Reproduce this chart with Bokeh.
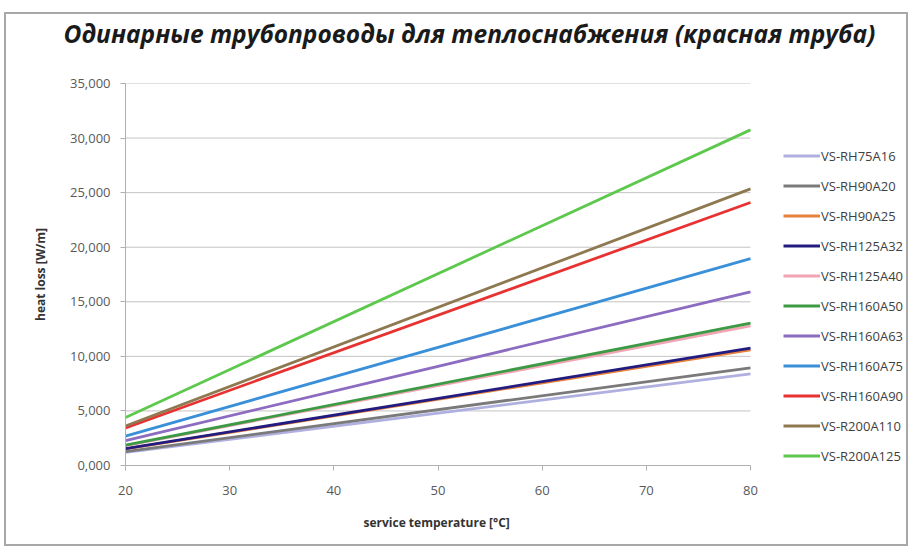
from bokeh.plotting import figure
from bokeh.models import Legend, LegendItem, FixedTicker, Title, Range1d
from bokeh.embed import file_html
from bokeh.resources import INLINE

# ---- data ----
temperature = [20, 80]
series_names = ["VS-RH75A16", "VS-RH90A20", "VS-RH90A25", "VS-RH125A32", "VS-RH125A40",
                "VS-RH160A50", "VS-RH160A63", "VS-RH160A75", "VS-RH160A90",
                "VS-R200A110", "VS-R200A125"]
loss_at_20 = [1.20, 1.28, 1.52, 1.54, 1.83, 1.86, 2.27, 2.70, 3.44, 3.62, 4.40]
loss_at_80 = [8.40, 8.95, 10.60, 10.75, 12.80, 13.05, 15.90, 18.95, 24.10, 25.35, 30.75]
series_colors = ["#b0b0e0", "#7a7a7a", "#e8803a", "#231c80", "#f0a4b4",
                 "#3c9a44", "#8c6cc0", "#3a90d8", "#e83232", "#8e7850", "#5cc84c"]
x_ticks = [20, 30, 40, 50, 60, 70, 80]
y_ticks = [0, 5, 10, 15, 20, 25, 30, 35]
y_tick_labels = ["0,000", "5,000", "10,000", "15,000", "20,000", "25,000", "30,000", "35,000"]
title_text = "Одинарные трубопроводы для теплоснабжения (красная труба)"
x_title = "service temperature [°C]"
y_title = "heat loss [W/m]"

FONT = "Open Sans"

# layout (pixels)
W, H = 904, 534
LEFT, RIGHT, TOP, BOTTOM = 119, 0, 68, 83
AXIS_PX = 625                       # pixel length of the 20..80 axis
frame_px = W - LEFT - RIGHT
x0, x1 = x_ticks[0], x_ticks[-1]
x_end = x0 + (x1 - x0) * frame_px / AXIS_PX   # extra room on the right holds the legend

p = figure(width=W, height=H, output_backend="svg", toolbar_location=None,
           x_range=Range1d(x0, x_end), y_range=Range1d(y_ticks[0], y_ticks[-1]),
           min_border_left=LEFT, min_border_right=RIGHT,
           min_border_top=TOP, min_border_bottom=BOTTOM)
p.title_location = None
p.outline_line_color = None
p.background_fill_color = "white"
p.border_fill_color = "white"
p.styles = {"border": "2px solid #a8a8a8", "margin-top": "12px", "margin-left": "4px"}

# titles (spacer first = nearest to the frame)
p.add_layout(Title(text=" ", text_font_size="1px", standoff=31), "above")
p.add_layout(Title(text=title_text, align="left", offset=-62,
                   text_font=FONT, text_font_style="bold italic", text_font_size="24.5px",
                   text_color="#1a1a1a", standoff=0), "above")

# horizontal grid lines, only across the 20..80 span
p.xgrid.visible = False
p.ygrid.visible = False
p.segment(x0=[x0] * len(y_ticks), x1=[x1] * len(y_ticks), y0=y_ticks, y1=y_ticks,
          line_color="#c4c4c4", line_width=1)

# axes
for ax in (p.xaxis[0], p.yaxis[0]):
    ax.axis_line_color = "#b0b0b0"
    ax.major_tick_line_color = "#b0b0b0"
    ax.minor_tick_line_color = None
    ax.major_tick_in = 0
    ax.major_tick_out = 5
    ax.major_label_text_font = FONT
    ax.major_label_text_font_size = "13px"
    ax.major_label_text_color = "#595959"
    ax.axis_label_text_font = FONT
    ax.axis_label_text_font_style = "bold"
    ax.axis_label_text_font_size = "12px"
    ax.axis_label_text_color = "#333333"

p.xaxis.ticker = FixedTicker(ticks=x_ticks)
p.xaxis.bounds = (x0, x1)
p.xaxis.major_label_standoff = 15

p.add_layout(Title(text=x_title, align="left", offset=238,
                   text_font=FONT, text_font_style="bold", text_font_size="12px",
                   text_color="#333333", standoff=29), "below")

p.yaxis.ticker = FixedTicker(ticks=y_ticks)
p.yaxis.major_label_overrides = {t: lab for t, lab in zip(y_ticks, y_tick_labels)}
p.yaxis.axis_label = y_title
p.yaxis.major_label_standoff = 10
p.yaxis.axis_label_standoff = 18

items = []
for name, a, b, c in zip(series_names, loss_at_20, loss_at_80, series_colors):
    r = p.line(temperature, [a, b], line_color=c, line_width=2.8)
    items.append(LegendItem(label=name, renderers=[r]))

legend = Legend(items=items, location=(658, 0), orientation="vertical",
                glyph_width=37, glyph_height=19, label_height=19, spacing=11,
                label_standoff=1, padding=0, margin=0,
                border_line_alpha=0, background_fill_alpha=0,
                label_text_font=FONT, label_text_font_size="13px",
                label_text_color="#404040")
p.add_layout(legend, "center")

open("out.html", "w").write(file_html(p, INLINE))
